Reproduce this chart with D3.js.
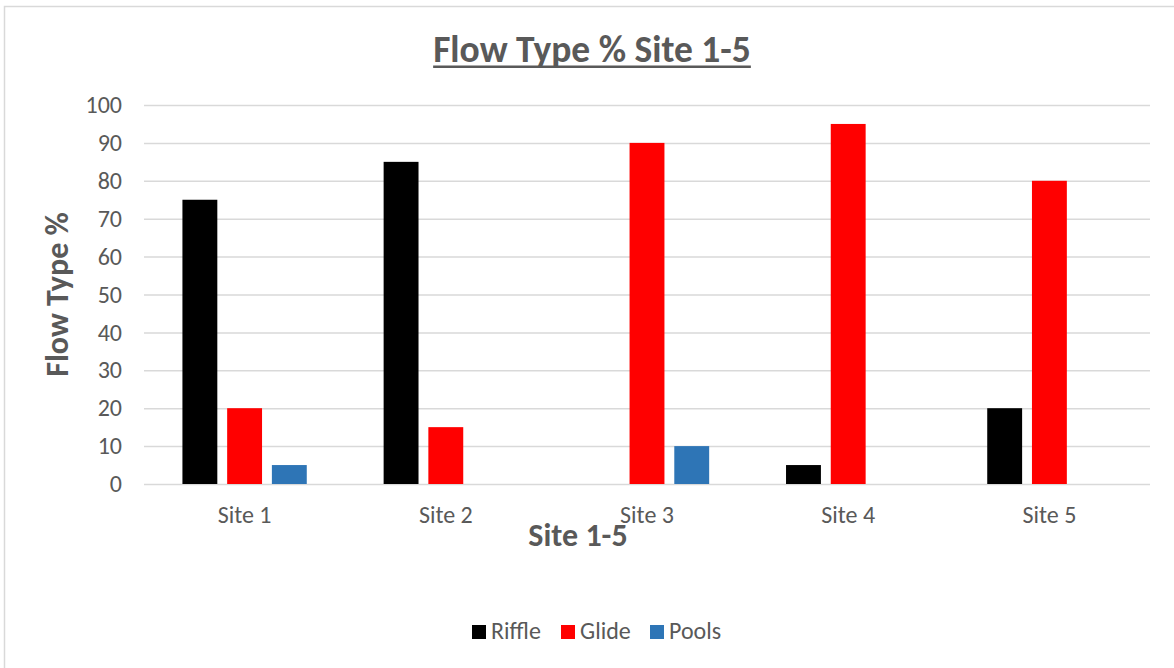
<!DOCTYPE html>
<html>
<head>
<meta charset="utf-8">
<script src="https://cdn.jsdelivr.net/npm/d3@7"></script>
<style>
  body { margin: 0; background: #fff; }
  svg text { font-family: Carlito, Lato, "Open Sans", sans-serif; fill: #595959; }
</style>
</head>
<body>
<svg id="chart" width="1174" height="668"></svg>
<script>
(function() {
  'use strict';

  // chart data
  var sites = ['Site 1', 'Site 2', 'Site 3', 'Site 4', 'Site 5'];
  var seriesNames = ['Riffle', 'Glide', 'Pools'];
  var riffle = [75, 85, 0, 5, 20];
  var glide = [20, 15, 90, 95, 80];
  var pools = [5, 0, 10, 0, 0];
  var yTicks = [0, 10, 20, 30, 40, 50, 60, 70, 80, 90, 100];
  var colors = ['#000000', '#ff0000', '#2e75b6'];

  var seriesValues = [riffle, glide, pools];
  var rows = sites.map(function(s, i) {
    return { site: s, values: seriesNames.map(function(n, j) { return { name: n, value: seriesValues[j][i] }; }) };
  });

  var svg = d3.select('#chart');
  var margin = { top: 105, left: 144, right: 24, bottom: 184 };
  var width = 1174 - margin.left - margin.right,
    height = 668 - margin.top - margin.bottom;

  // frame
  svg.append('rect')
    .attr('x', 4.5).attr('y', 6.5)
    .attr('width', 1180).attr('height', 680)
    .attr('fill', '#fff')
    .attr('stroke', '#d9d9d9')
    .attr('stroke-width', 1.5);

  var g = svg.append('g').attr('transform', 'translate(' + margin.left + ',' + margin.top + ')');

  var x0 = d3.scaleBand().domain(sites).range([0, width]).paddingInner(0.382).paddingOuter(0.191);
  var x1 = d3.scaleBand().domain(seriesNames).range([0, x0.bandwidth()]).paddingInner(0.22);
  var y = d3.scaleLinear().domain([0, 100]).range([height, 0]);
  var color = d3.scaleOrdinal().domain(seriesNames).range(colors);

  // gridlines + y labels
  var yAxis = g.append('g')
    .call(d3.axisLeft(y).tickValues(yTicks).tickSize(-width).tickPadding(22));
  yAxis.select('.domain').remove();
  yAxis.selectAll('.tick line').attr('stroke', '#d9d9d9').attr('stroke-width', 1.5);
  yAxis.selectAll('.tick text')
    .attr('font-size', 24)
    .style('font-family', 'Carlito, Lato, "Open Sans", sans-serif')
    .attr('fill', '#595959');

  // bars
  g.append('g')
    .selectAll('g')
    .data(rows)
    .join('g')
      .attr('transform', function(d) { return 'translate(' + x0(d.site) + ',0)'; })
    .selectAll('rect')
    .data(function(d) { return d.values; })
    .join('rect')
      .attr('x', function(d) { return x1(d.name); })
      .attr('y', function(d) { return y(d.value); })
      .attr('width', x1.bandwidth())
      .attr('height', function(d) { return height - y(d.value); })
      .attr('fill', function(d) { return color(d.name); });

  // x labels
  var xAxis = g.append('g')
    .attr('transform', 'translate(0,' + height + ')')
    .call(d3.axisBottom(x0).tickSize(0).tickPadding(22));
  xAxis.select('.domain').remove();
  xAxis.selectAll('.tick text')
    .attr('font-size', 24)
    .style('font-family', 'Carlito, Lato, "Open Sans", sans-serif')
    .attr('fill', '#595959');

  // title
  var title = svg.append('text')
    .attr('x', 592).attr('y', 62)
    .attr('text-anchor', 'middle')
    .attr('font-size', 37.5)
    .attr('font-weight', 'bold')
    .text('Flow Type % Site 1-5');
  var bb = title.node().getBBox();
  svg.append('rect')
    .attr('x', bb.x).attr('y', 65.5)
    .attr('width', bb.width).attr('height', 2.5)
    .attr('fill', '#595959');

  // axis titles
  svg.append('text')
    .attr('transform', 'translate(68,' + (margin.top + height / 2) + ') rotate(-90)')
    .attr('text-anchor', 'middle')
    .attr('font-size', 32)
    .attr('font-weight', 'bold')
    .text('Flow Type %');

  svg.append('text')
    .attr('x', 578).attr('y', 546)
    .attr('text-anchor', 'middle')
    .attr('font-size', 32)
    .attr('font-weight', 'bold')
    .text('Site 1-5');

  // legend
  var legendX = [472, 561, 650];
  var legend = svg.append('g').selectAll('g')
    .data(seriesNames)
    .join('g')
      .attr('transform', function(d, i) { return 'translate(' + legendX[i] + ',625)'; });
  legend.append('rect')
    .attr('width', 14).attr('height', 14)
    .attr('fill', function(d) { return color(d); });
  legend.append('text')
    .attr('x', 19).attr('y', 14)
    .attr('font-size', 24)
    .text(function(d) { return d; });
}());
</script>
</body>
</html>
